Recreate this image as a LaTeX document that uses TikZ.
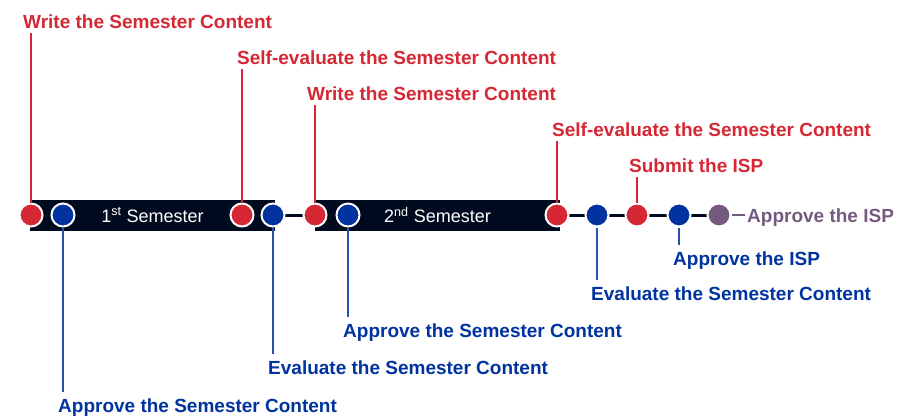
\documentclass[tikz,border=0pt]{standalone}
\usepackage{fontspec}
\setmainfont{Liberation Sans}
\usepackage{tikz}
\usetikzlibrary{backgrounds}
\usepackage{xcolor}
\definecolor{ispred}{HTML}{D62834}
\definecolor{ispblue}{HTML}{0033A0}
\definecolor{isppurple}{HTML}{745A7E}
\definecolor{ispnavy}{HTML}{000A1E}

\tikzset{
  dot/.style={circle,draw=white,line width=2pt,minimum size=23pt,inner sep=0pt},
  reddot/.style={dot,fill=ispred},
  bluedot/.style={dot,fill=ispblue},
  purpledot/.style={dot,fill=isppurple},
  lbl/.style={font=\bfseries\fontsize{19}{22}\selectfont,inner sep=0pt,anchor=base west},
  redlbl/.style={lbl,text=ispred,text depth=0pt},
  bluelbl/.style={lbl,text=ispblue},
  redlead/.style={draw=ispred,line width=1.3pt,shorten >=5pt},
  bluelead/.style={draw=ispblue!85,line width=1.3pt,shorten >=6pt},
  semester/.style={fill=ispnavy,text=white,minimum height=31pt,inner sep=0pt,
    font=\fontsize{18}{20}\selectfont}
}

\begin{document}
\begin{tikzpicture}[x=1pt,y=-1pt]
\useasboundingbox (0,0) rectangle (917,416);

% semester bars
\node[semester,minimum width=245pt] (sem1) at (152.5,215) {1\textsuperscript{st} Semester};
\node[semester,minimum width=245pt] (sem2) at (437.5,215) {2\textsuperscript{nd} Semester};

% milestones
\node[reddot]    (w1)  at (31,215)  {};
\node[bluedot]   (a1)  at (63,215)  {};
\node[reddot]    (s1)  at (242,215) {};
\node[bluedot]   (e1)  at (273,215) {};
\node[reddot]    (w2)  at (315,215) {};
\node[bluedot]   (a2)  at (348,215) {};
\node[reddot]    (s2)  at (557,215) {};
\node[bluedot]   (e2)  at (597,215) {};
\node[reddot]    (sub) at (637,215) {};
\node[bluedot]   (app) at (679,215) {};
\node[purpledot] (fin) at (719,215) {};

\begin{scope}[on background layer]
  \draw[ispnavy,line width=3pt] (w1) -- (fin);
\end{scope}

% labels above
\node[redlbl] (w1l)  at (23,28)   {Write the Semester Content};
\node[redlbl] (s1l)  at (237,64)  {Self-evaluate the Semester Content};
\node[redlbl] (w2l)  at (307,100) {Write the Semester Content};
\node[redlbl] (s2l)  at (552,136) {Self-evaluate the Semester Content};
\node[redlbl] (subl) at (629,172) {Submit the ISP};

% labels below
\node[bluelbl] (a1l)  at (58,412)  {Approve the Semester Content};
\node[bluelbl] (e1l)  at (268,374) {Evaluate the Semester Content};
\node[bluelbl] (a2l)  at (343,337) {Approve the Semester Content};
\node[bluelbl] (e2l)  at (591,300) {Evaluate the Semester Content};
\node[bluelbl] (appl) at (673,265) {Approve the ISP};

\node[lbl,text=isppurple] (finl) at (747,222) {Approve the ISP};

% leaders
\draw[redlead] (w1) -- (w1 |- w1l.south);
\draw[redlead] (s1) -- (s1 |- s1l.south);
\draw[redlead] (w2) -- (w2 |- w2l.south);
\draw[redlead] (s2) -- (s2 |- s2l.south);
\draw[redlead] (sub) -- (sub |- subl.south);
\draw[bluelead] (a1) -- (a1 |- a1l.north);
\draw[bluelead] (e1) -- (e1 |- e1l.north);
\draw[bluelead] (a2) -- (a2 |- a2l.north);
\draw[bluelead] (e2) -- (e2 |- e2l.north);
\draw[bluelead] (app) -- (app |- appl.north);
\draw[isppurple,line width=1.3pt,shorten >=2pt] (fin) -- (fin -| finl.west);

\end{tikzpicture}
\end{document}
